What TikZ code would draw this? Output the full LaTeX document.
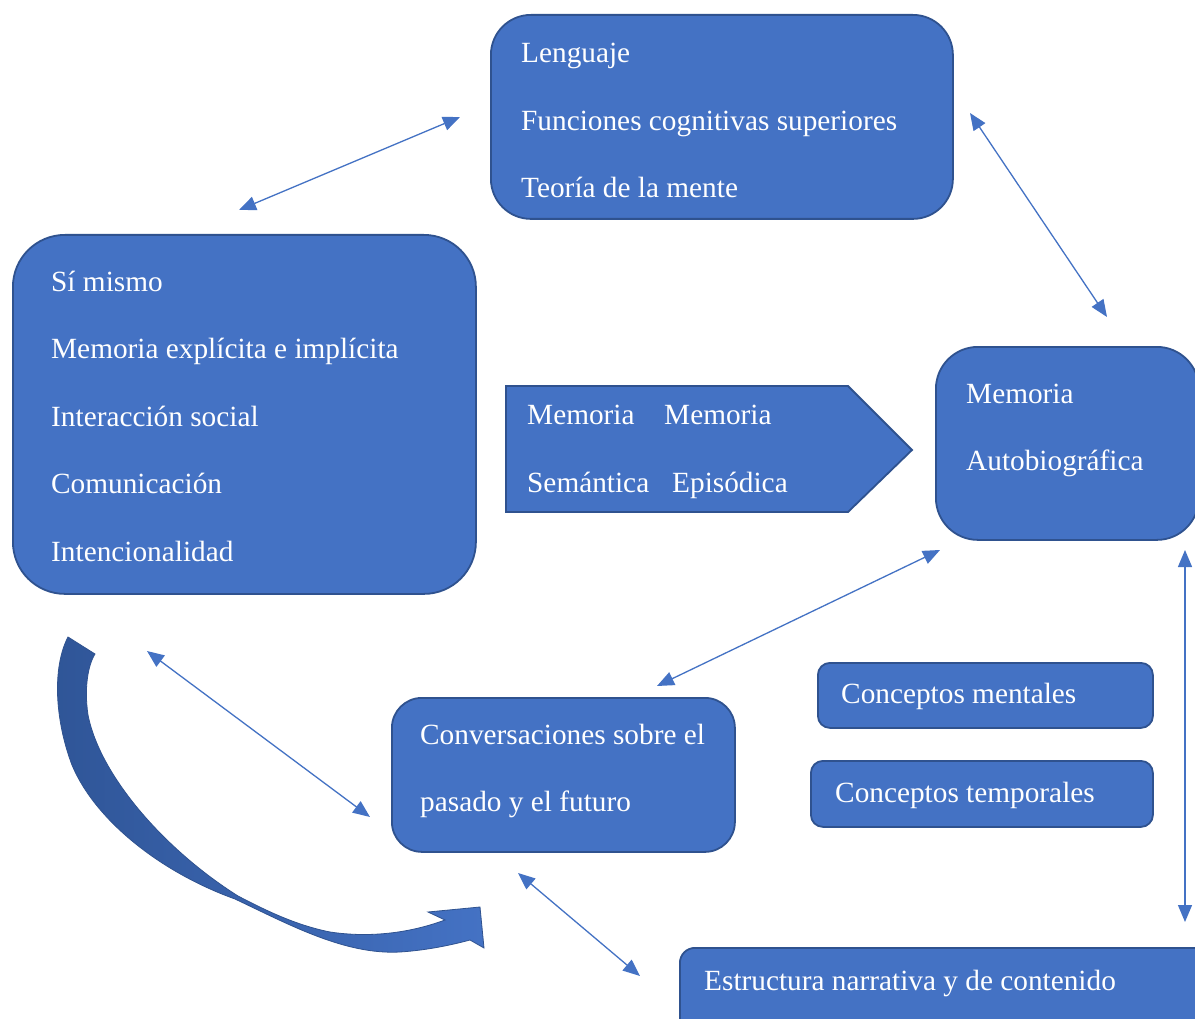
\documentclass[tikz,border=0pt]{standalone}
\usepackage{fontspec}
\setmainfont{Liberation Serif}
\usetikzlibrary{arrows.meta}
\definecolor{boxfill}{HTML}{4472C4}
\definecolor{boxline}{HTML}{2F528F}
\definecolor{darkarc}{HTML}{2F5597}
\tikzset{
  box/.style={draw=boxline, fill=boxfill, line width=1.8pt, rectangle, anchor=north west, inner sep=0pt},
  lbl/.style={anchor=base west, inner sep=0pt, text=white, font=\fontsize{29.3}{35}\selectfont},
  dbl/.style={draw=boxfill, line width=1.3pt, {Triangle[length=17pt,width=14pt]}-{Triangle[length=17pt,width=14pt]}},
}
\begin{document}
\begin{tikzpicture}[x=1pt,y=-1pt]
\useasboundingbox (0,0) rectangle (1195,1019);
\fill[white] (0,0) rectangle (1195,1019);

% top box
\node[box, rounded corners=40pt, minimum width=462pt, minimum height=204pt] (top) at (490,14) {};
\node[lbl] (t1) at (521,63) {Lenguaje};
\node[lbl] (t2) at (521,131) {Funciones cognitivas superiores};
\node[lbl] (t3) at (521,198) {Teoría de la mente};

% left box
\node[box, rounded corners=52pt, minimum width=463pt, minimum height=359pt] (left) at (12,234) {};
\node[lbl] (l1) at (51,291) {Sí mismo};
\node[lbl] (l2) at (51,358) {Memoria explícita e implícita};
\node[lbl] (l3) at (51,426) {Interacción social};
\node[lbl] (l4) at (51,493) {Comunicación};
\node[lbl] (l5) at (51,561) {Intencionalidad};

% pentagon arrow
\draw[draw=boxline, fill=boxfill, line width=1.8pt] (506,386) -- (848,386) -- (912,450) -- (848,512) -- (506,512) -- cycle;
\node[lbl] (p1) at (527,424) {Memoria};
\node[lbl] (p2) at (664,424) {Memoria};
\node[lbl] (p3) at (527,492) {Semántica};
\node[lbl] (p4) at (672,492) {Episódica};

% memoria autobiografica
\node[box, rounded corners=42pt, minimum width=263pt, minimum height=193pt] (auto) at (935,346) {};
\node[lbl] (a1) at (966,403) {Memoria};
\node[lbl] (a2) at (966,470) {Autobiográfica};

% conversaciones
\node[box, rounded corners=30pt, minimum width=343pt, minimum height=154pt] (conv) at (391,697) {};
\node[lbl] (c1) at (420,744) {Conversaciones sobre el};
\node[lbl] (c2) at (420,811) {pasado y el futuro};

% conceptos
\node[box, rounded corners=12pt, minimum width=335pt, minimum height=65pt] (cm) at (817,662) {};
\node[lbl] (cm1) at (841,703) {Conceptos mentales};
\node[box, rounded corners=12pt, minimum width=342pt, minimum height=66pt] (ct) at (810,760) {};
\node[lbl] (ct1) at (835,802) {Conceptos temporales};

% estructura
\node[box, rounded corners=15pt, minimum width=560pt, minimum height=100pt] (est) at (679,947) {};
\node[lbl] (e1) at (704,990) {Estructura narrativa y de contenido};

% curved block arrow
\shade[left color=darkarc, right color=boxfill, draw=boxline, line width=0.8pt]
  (68,637) .. controls (52,668) and (55,720) .. (72,765)
  .. controls (95,820) and (160,872) .. (235,899)
  .. controls (290,925) and (345,955) .. (400,952)
  .. controls (430,950) and (455,944) .. (470,940)
  -- (484,948) -- (480,907) -- (428,912) -- (445,920)
  .. controls (410,933) and (370,938) .. (330,932)
  .. controls (295,925) and (265,910) .. (238,896)
  .. controls (165,850) and (100,776) .. (88,715)
  .. controls (84,688) and (88,665) .. (95,654) -- cycle;

% thin double arrows
\coordinate (q1a) at (239,210); \coordinate (q1b) at (460,117);
\coordinate (q2a) at (970,113); \coordinate (q2b) at (1107,317);
\coordinate (q3a) at (940,550); \coordinate (q3b) at (657,686);
\coordinate (q4a) at (147,651); \coordinate (q4b) at (370,817);
\coordinate (q5a) at (518,873); \coordinate (q5b) at (640,976);
\coordinate (q6a) at (1185,550); \coordinate (q6b) at (1185,922);
\draw[dbl] (q1a) -- (q1b);
\draw[dbl] (q2a) -- (q2b);
\draw[dbl] (q3a) -- (q3b);
\draw[dbl] (q4a) -- (q4b);
\draw[dbl] (q5a) -- (q5b);
\draw[dbl] (q6a) -- (q6b);
\end{tikzpicture}
\end{document}
